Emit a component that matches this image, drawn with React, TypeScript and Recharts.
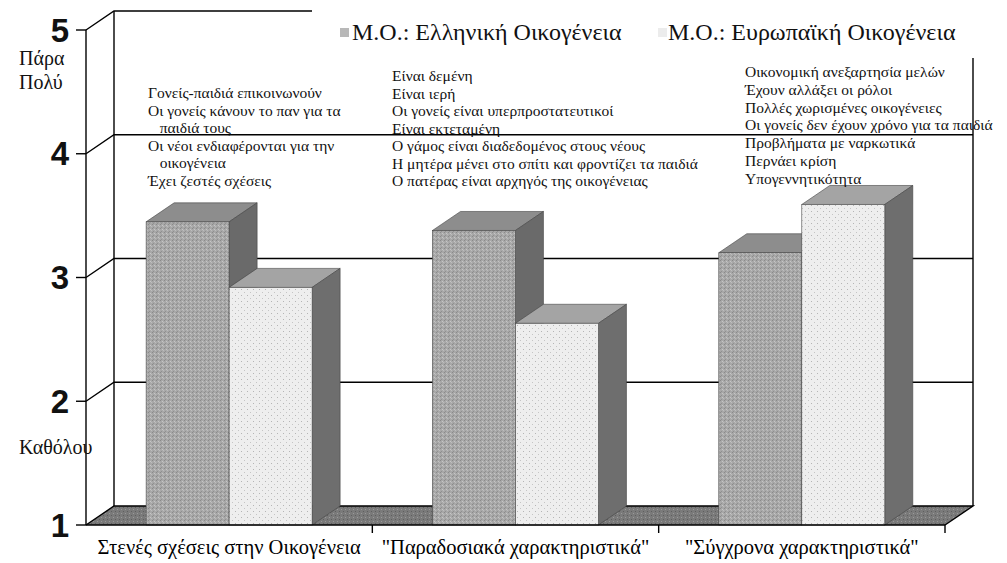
import React from 'react';
import { BarChart, Bar, XAxis, YAxis, CartesianGrid, ReferenceLine } from 'recharts';

// chart values (scale 1 = Καθόλου, 5 = Πάρα Πολύ)
const categories = ['Στενές σχέσεις στην Οικογένεια', '"Παραδοσιακά χαρακτηριστικά"', '"Σύγχρονα χαρακτηριστικά"'];
const greekValues = [3.45, 3.38, 3.2];
const europeanValues = [2.92, 2.63, 3.59];
const seriesNames = ['Μ.Ο.: Ελληνική Οικογένεια', 'Μ.Ο.: Ευρωπαϊκή Οικογένεια'];
const valueTicks = [1, 2, 3, 4, 5];

const notesClose = ['Γονείς-παιδιά επικοινωνούν', 'Οι γονείς κάνουν το παν για τα', '   παιδιά τους', 'Οι νέοι ενδιαφέρονται για την', '   οικογένεια', 'Έχει ζεστές σχέσεις'];
const notesTraditional = ['Είναι δεμένη', 'Είναι ιερή', 'Οι γονείς είναι υπερπροστατευτικοί', 'Είναι εκτεταμένη', 'Ο γάμος είναι διαδεδομένος στους νέους', 'Η μητέρα μένει στο σπίτι και φροντίζει τα παιδιά', 'Ο πατέρας είναι αρχηγός της οικογένειας'];
const notesModern = ['Οικονομική ανεξαρτησία μελών', 'Έχουν αλλάξει οι ρόλοι', 'Πολλές χωρισμένες οικογένειες', 'Οι γονείς δεν έχουν χρόνο για τα παιδιά', 'Προβλήματα με ναρκωτικά', 'Περνάει κρίση', 'Υπογεννητικότητα'];

const data = categories.map((name, i) => ({ name, greek: greekValues[i], european: europeanValues[i] }));

// depth of the 3d box / back wall
const DX = 28;
const DY = -19;
const SERIF = "'Liberation Serif', 'DejaVu Serif', serif";

const Box3D = (props: any) => {
    const { x, y, width, height, front, top, side } = props;
    if (height <= 0) return null;
    const r = x + width;
    const b = y + height;
    return (
        <g stroke="#444" strokeWidth={0.6}>
            <polygon points={`${x},${y} ${x + DX},${y + DY} ${r + DX},${y + DY} ${r},${y}`} fill={top} />
            <polygon points={`${r},${y} ${r + DX},${y + DY} ${r + DX},${b + DY} ${r},${b}`} fill={side} />
            <rect x={x} y={y} width={width} height={height} fill={front} />
        </g>
    );
};

//gridlines drawn on the back wall, floor at the bottom one
const gridLine = (props: any) => {
    const { x1, y1, x2, index, y, height } = props;
    const bottom = y + height;
    if (Math.abs(y1 - bottom) < 1) {
        return (
            <g key={`g-${index}`}>
                <polygon points={`${x1},${y1} ${x1 + DX},${y1 + DY} ${x2 + DX},${y1 + DY} ${x2},${y1}`} fill="url(#floorFill)" />
                <path d={`M${x1},${y1} L${x1 + DX},${y1 + DY} L${x2 + DX},${y1 + DY} L${x2},${y1}`} stroke="#000" strokeWidth={1.4} fill="none" />
                <line x1={x1 + DX} y1={y + DY} x2={x1 + DX} y2={bottom + DY} stroke="#000" strokeWidth={1.4} />
                <line x1={x2 + DX} y1={y + DY} x2={x2 + DX} y2={bottom + DY} stroke="#000" strokeWidth={1.4} />
            </g>
        );
    }
    return <path key={`g-${index}`} d={`M${x1},${y1} L${x1 + DX},${y1 + DY} L${x2 + DX},${y1 + DY}`} stroke="#000" strokeWidth={1.4} fill="none" />;
};

// short tick under the axis at the end of each category band
const EdgeTick = (props: any) => {
    const { x1, y1, y2 } = props;
    const base = Math.max(y1, y2);
    return <line x1={x1} y1={base} x2={x1} y2={base + 8} stroke="#000" strokeWidth={1.4} />;
};

const CategoryTick = (props: any) => {
    const { x, y, payload } = props;
    return (
        <text x={x} y={y + 21} textAnchor="middle" style={{ fontFamily: SERIF }} fontSize={20.5} fill="#000">
            {payload.value}
        </text>
    );
};

const NoteBlock: React.FC<{ lines: string[]; left: number; top: number; step: number }> = ({ lines, left, top, step }) => (
    <>
        {lines.map((line, i) => (
            <div key={i} style={{ position: 'absolute', left, top: top + i * step, fontFamily: SERIF, fontSize: 15.5, lineHeight: '17px', whiteSpace: 'pre', color: '#111' }}>
                {line}
            </div>
        ))}
    </>
);

const sideLabel = { position: 'absolute' as const, left: 19, fontFamily: SERIF, fontSize: 20, lineHeight: '21px', color: '#111' };

export default function App() {
    return (
        <div style={{ position: 'absolute', left: 0, top: 0, width: 1007, height: 563, background: '#fff', overflow: 'hidden' }}>
            <BarChart width={1007} height={563} data={data} margin={{ top: 30, right: 62, left: 26, bottom: 8 }} barCategoryGap="21%" barGap={0}>
                <defs>
                    <pattern id="greekFront" width="4" height="4" patternUnits="userSpaceOnUse">
                        <rect width="4" height="4" fill="#a8a8a8" />
                        <rect x="0" y="0" width="1" height="1" fill="#8a8a8a" />
                        <rect x="2" y="1" width="1" height="1" fill="#c6c6c6" />
                        <rect x="1" y="3" width="1" height="1" fill="#909090" />
                        <rect x="3" y="2" width="1" height="1" fill="#bdbdbd" />
                    </pattern>
                    <pattern id="euroFront" width="6" height="6" patternUnits="userSpaceOnUse">
                        <rect width="6" height="6" fill="#eeeeee" />
                        <rect x="1" y="1" width="1" height="1" fill="#b5b5b5" />
                        <rect x="4" y="4" width="1" height="1" fill="#c5c5c5" />
                    </pattern>
                    <pattern id="floorFill" width="4" height="4" patternUnits="userSpaceOnUse">
                        <rect width="4" height="4" fill="#7a7a7a" />
                        <rect x="1" y="1" width="1" height="1" fill="#9a9a9a" />
                        <rect x="3" y="3" width="1" height="1" fill="#5e5e5e" />
                    </pattern>
                </defs>
                <CartesianGrid vertical={false} horizontal={gridLine} />
                <XAxis dataKey="name" tick={<CategoryTick />} tickLine={false} tickSize={6} axisLine={{ stroke: '#000', strokeWidth: 1.4 }} height={30} interval={0} />
                <YAxis
                    domain={[1, 5]}
                    ticks={valueTicks}
                    width={60}
                    tickSize={10}
                    tickMargin={7}
                    axisLine={{ stroke: '#000', strokeWidth: 1.4 }}
                    tickLine={{ stroke: '#000', strokeWidth: 1.4 }}
                    tick={{ fill: '#111', fontSize: 33, fontWeight: 700, fontFamily: "'Liberation Sans', Arial, sans-serif" }}
                />
                <Bar dataKey="greek" name={seriesNames[0]} isAnimationActive={false} shape={(p: any) => <Box3D {...p} front="url(#greekFront)" top="#8d8d8d" side="#6a6a6a" />} />
                <Bar dataKey="european" name={seriesNames[1]} isAnimationActive={false} shape={(p: any) => <Box3D {...p} front="url(#euroFront)" top="#a4a4a4" side="#6e6e6e" />} />
                {categories.map((c) => (
                    <ReferenceLine key={c} x={c} position="end" ifOverflow="visible" shape={EdgeTick} />
                ))}
            </BarChart>

            {/* legend box sits over the top of the back wall */}
            <div style={{ position: 'absolute', left: 312, top: 0, width: 695, height: 58, background: '#fff' }}>
                <div style={{ position: 'absolute', left: 28, top: 28, width: 9, height: 9, backgroundColor: '#b8b8b8' }} />
                <div style={{ position: 'absolute', left: 40, top: 18, fontFamily: SERIF, fontSize: 24, lineHeight: '28px', color: '#111', whiteSpace: 'nowrap' }}>{seriesNames[0]}</div>
                <div style={{ position: 'absolute', left: 346, top: 28, width: 9, height: 9, backgroundColor: '#ececec' }} />
                <div style={{ position: 'absolute', left: 356, top: 18, fontFamily: SERIF, fontSize: 24, lineHeight: '28px', color: '#111', whiteSpace: 'nowrap' }}>{seriesNames[1]}</div>
            </div>

            <div style={{ ...sideLabel, top: 48 }}>Πάρα</div>
            <div style={{ ...sideLabel, top: 72 }}>Πολύ</div>
            <div style={{ ...sideLabel, top: 437 }}>Καθόλου</div>

            <NoteBlock lines={notesClose} left={148} top={84} step={17.5} />
            <NoteBlock lines={notesTraditional} left={392} top={67} step={17.5} />
            <NoteBlock lines={notesModern} left={745} top={63} step={17.8} />
        </div>
    );
}
